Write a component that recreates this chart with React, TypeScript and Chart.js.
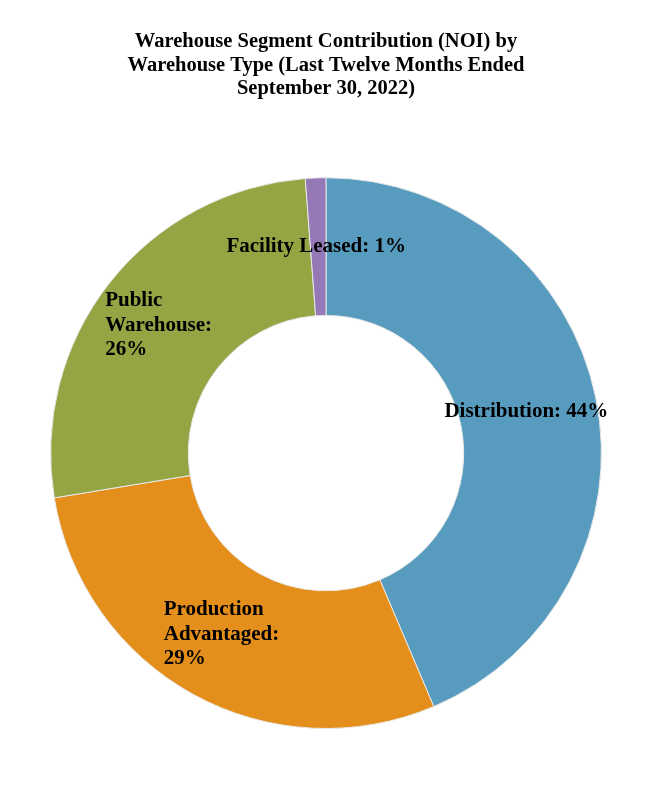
import { useEffect, useRef } from "react";
import { Chart, registerables } from "chart.js";

Chart.register(...registerables);

const categories = ["Distribution", "Production Advantaged", "Public Warehouse", "Facility Leased"];
const values = [43.6, 28.8, 26.4, 1.2];
const percentLabels = ["44%", "29%", "26%", "1%"];
const labelLines = [
  ["Distribution: 44%"],
  ["Production", "Advantaged:", "29%"],
  ["Public", "Warehouse:", "26%"],
  ["Facility Leased: 1%"],
];
const colors = ["#579BBF", "#E48F1C", "#95A543", "#9479B6"];

const titleLines = [
  "Warehouse Segment Contribution (NOI) by",
  "Warehouse Type (Last Twelve Months Ended",
  "September 30, 2022)",
];

const FONT = "'Liberation Serif', 'Times New Roman', serif";

// draws the data labels at the middle of each arc, left-aligned block
const sliceLabels = {
  id: "sliceLabels",
  afterDatasetsDraw(chart: any) {
    const { ctx } = chart;
    const meta = chart.getDatasetMeta(0);
    ctx.save();
    ctx.font = `bold 21px ${FONT}`;
    ctx.fillStyle = "#000";
    ctx.textBaseline = "middle";
    ctx.textAlign = "left";
    const lineH = 24.5;
    meta.data.forEach((arc: any, i: number) => {
      const { x, y, startAngle, endAngle, innerRadius, outerRadius } = arc.getProps(
        ["x", "y", "startAngle", "endAngle", "innerRadius", "outerRadius"],
        true
      );
      const mid = (startAngle + endAngle) / 2;
      const r = (innerRadius + outerRadius) / 2;
      const cx = x + Math.cos(mid) * r;
      const cy = y + Math.sin(mid) * r;
      const lines = labelLines[i];
      const w = Math.max(...lines.map((l) => ctx.measureText(l).width));
      const top = cy - ((lines.length - 1) * lineH) / 2;
      // multi-line labels sit slightly left of the arc midpoint
      const shift = lines.length > 1 ? 5 : 2;
      lines.forEach((l, j) => ctx.fillText(l, cx - w / 2 - shift, top + j * lineH));
    });
    ctx.restore();
  },
};

export default function App() {
  const chartRef = useRef<HTMLCanvasElement>(null);

  useEffect(() => {
    document.body.style.margin = "0";
    if (!chartRef.current) return;
    const chart = new Chart(chartRef.current, {
      type: "doughnut",
      data: {
        labels: categories,
        datasets: [
          {
            data: values,
            backgroundColor: colors,
            borderColor: "#e8e8e8",
            borderWidth: 1,
          },
        ],
      },
      options: {
        responsive: true,
        maintainAspectRatio: false,
        animation: false,
        cutout: "50%",
        layout: { padding: { left: 50, right: 48, top: 0, bottom: 71 } },
        plugins: {
          legend: { display: false },
          tooltip: {
            callbacks: {
              label: (c: any) => `${c.label}: ${percentLabels[c.dataIndex]}`,
            },
          },
          title: {
            display: true,
            text: titleLines,
            color: "#000",
            font: { family: FONT, size: 20.5, weight: "bold", lineHeight: 1.15 },
            padding: { top: 30, bottom: 76.5 },
          },
        },
      },
      plugins: [sliceLabels],
    });
    return () => chart.destroy();
  }, []);

  return (
    <div style={{ width: 650, height: 800, position: "relative", background: "#fff" }}>
      <canvas ref={chartRef} />
    </div>
  );
}
